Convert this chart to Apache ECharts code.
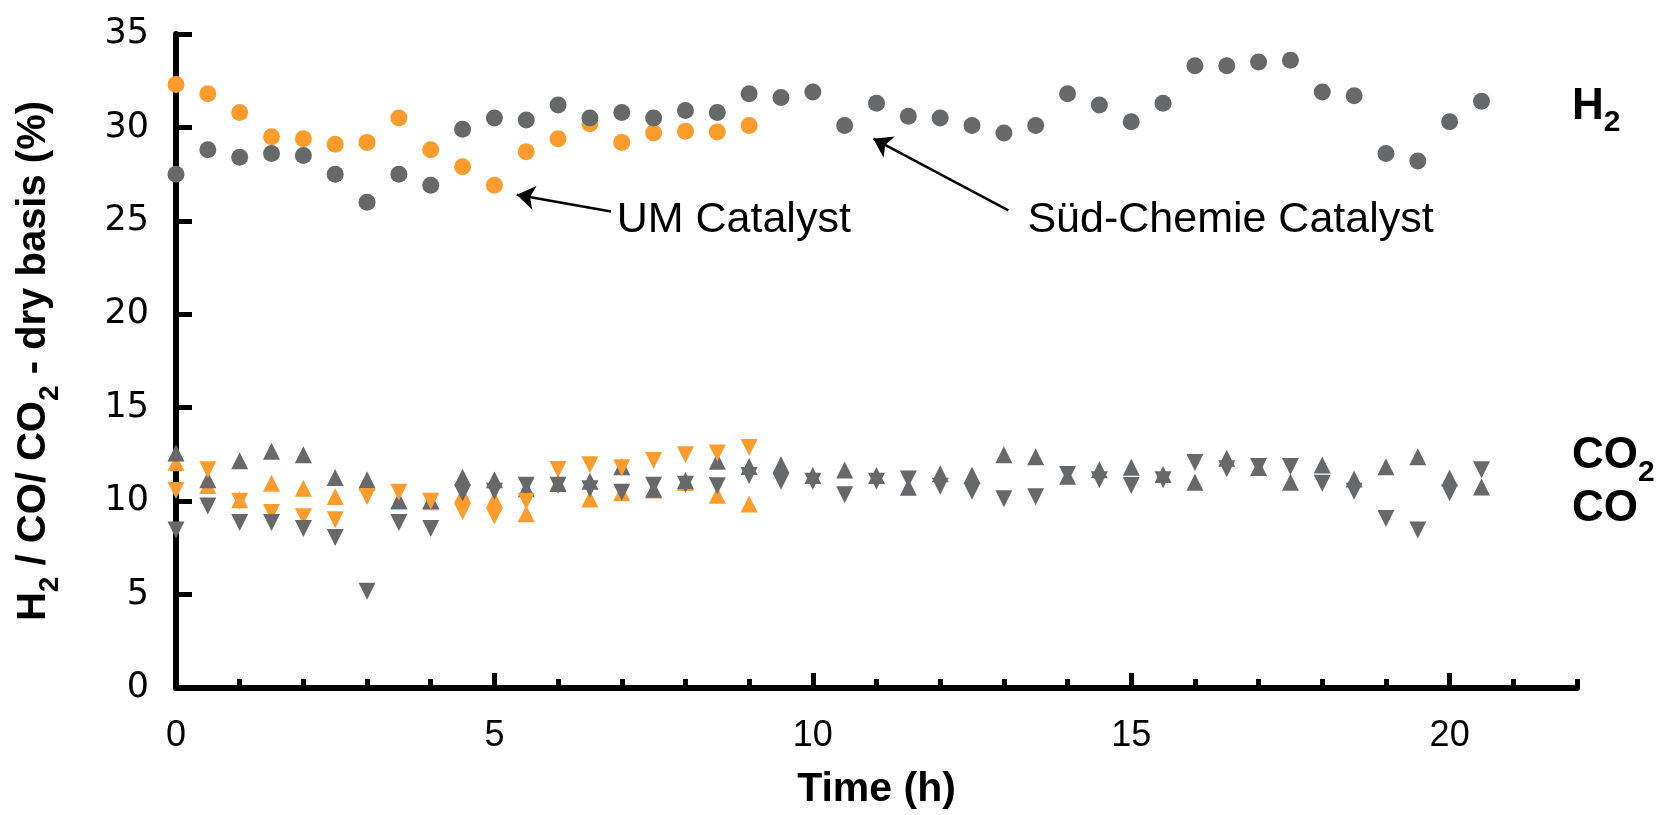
<!DOCTYPE html>
<html>
<head>
<meta charset="utf-8">
<script src="https://cdn.jsdelivr.net/npm/echarts@6/dist/echarts.min.js"></script>
<style>
html,body{margin:0;padding:0;background:#fff;}
#c{width:1673px;height:815px;}
</style>
</head>
<body>
<div id="c"></div>
<script>
// ---- data ----
const timeSC = [0,0.5,1,1.5,2,2.5,3,3.5,4,4.5,5,5.5,6,6.5,7,7.5,8,8.5,9,9.5,10,10.5,11,11.5,12,12.5,13,13.5,14,14.5,15,15.5,16,16.5,17,17.5,18,18.5,19,19.5,20,20.5];
const timeUM = [0,0.5,1,1.5,2,2.5,3,3.5,4,4.5,5,5.5,6,6.5,7,7.5,8,8.5,9];

const h2SC = [27.5,28.8,28.4,28.6,28.5,27.5,26.0,27.5,26.9,29.9,30.5,30.4,31.2,30.5,30.8,30.5,30.9,30.8,31.8,31.6,31.9,30.1,31.3,30.6,30.5,30.1,29.7,30.1,31.8,31.2,30.3,31.3,33.3,33.3,33.5,33.6,31.9,31.7,28.6,28.2,30.3,31.4];
const h2UM = [32.3,31.8,30.8,29.5,29.4,29.1,29.2,30.5,28.8,27.9,26.9,28.7,29.4,30.2,29.2,29.7,29.8,29.75,30.1];

const co2SC = [12.57,11.15,12.16,12.67,12.48,11.26,11.14,10.04,10.04,11.28,11.15,10.66,10.95,11.07,11.84,10.64,11.1,12.13,11.86,11.95,11.37,11.67,11.37,10.75,11.47,11.38,12.48,12.37,11.33,11.68,11.81,11.42,11.01,12.30,11.8,11.01,11.93,11.19,11.84,12.37,11.24,10.76];
const coSC = [8.45,9.74,8.86,8.86,8.54,8.06,5.18,8.86,8.54,10.43,10.53,10.85,10.85,10.66,10.47,10.85,10.9,10.82,11.37,11.07,11.07,10.34,11.07,11.19,10.80,10.53,10.13,10.23,11.42,11.15,10.84,11.15,12.07,11.74,11.86,11.86,10.96,10.53,9.07,8.45,10.45,11.68];

const co2UM = [12.07,10.84,10.08,10.96,10.69,10.25,11.0,10.0,9.97,10.34,10.09,9.33,11.0,10.11,10.45,10.6,11.0,10.32,9.85];
const coUM = [10.57,11.68,10.0,9.39,9.17,9.0,10.25,10.48,9.99,9.44,9.21,9.99,11.70,11.95,11.79,12.18,12.48,12.57,12.87];

const xMajorTicks = [0,5,10,15,20];
const xMinorTicks = [1,2,3,4,6,7,8,9,11,12,13,14,16,17,18,19,21,22];

// annotations (data coordinates)
const arrowUM = [[6.83,25.5],[5.35,26.4]];
const arrowSC = [[13.07,25.56],[10.95,29.4]];
const labelUM = {text:'UM Catalyst', at:[6.92,25.02]};
const labelSC = {text:'Süd-Chemie Catalyst', at:[13.37,25.02]};

const GREY = '#67686A';
const ORANGE = '#FB9C2C';

function pairs(xs, ys){ return xs.map((x,i)=>[x, ys[i]]); }

const chart = echarts.init(document.getElementById('c'), null, {renderer:'canvas'});

const sub = {fontSize: 28, fontWeight:'bold', fontFamily:'Liberation Sans, Arial', lineHeight: 26, verticalAlign:'bottom', color:'#000'};
const main = {fontSize: 40, fontWeight:'bold', fontFamily:'Liberation Sans, Arial', lineHeight: 60, color:'#000'};

function scatter(name, xs, ys, color, symbol, rotate){
  return {
    type:'scatter', name, data: pairs(xs, ys),
    symbol, symbolSize: 17, symbolRotate: rotate || 0,
    itemStyle:{color, opacity:1},
    emphasis:{disabled:true},
    xAxisIndex:0, yAxisIndex:0
  };
}

chart.setOption({
  animation:false,
  backgroundColor:'#fff',
  grid:{left:176, right:96, top:34, bottom:124, containLabel:false},
  xAxis:[{
    type:'value', min:0, max:22, interval:5,
    name:'Time (h)', nameLocation:'middle', nameGap:81,
    nameTextStyle:{fontSize:41, fontWeight:'bold', fontFamily:'Liberation Sans, Arial', color:'#000'},
    axisLine:{show:true, lineStyle:{color:'#000', width:6}},
    axisTick:{show:true, inside:true, length:15, lineStyle:{color:'#000', width:5}, customValues: xMajorTicks},
    axisLabel:{show:true, margin:30, fontSize:36, fontFamily:'Liberation Sans Narrow, Liberation Sans, Arial', color:'#000', customValues: xMajorTicks},
    splitLine:{show:false}
  },{
    type:'value', min:0, max:22, interval:1, position:'bottom',
    axisLine:{show:false},
    axisTick:{show:true, inside:true, length:9, lineStyle:{color:'#000', width:5}, customValues: xMinorTicks},
    axisLabel:{show:false},
    splitLine:{show:false}
  }],
  yAxis:{
    type:'value', min:0, max:35, interval:5,
    name:'{m|H}{s|2}{m| / CO/ CO}{s|2}{m| - dry basis (%)}',
    nameLocation:'middle', nameRotate:90, nameGap:112,
    nameTextStyle:{rich:{m:main, s:sub}},
    axisLine:{show:true, lineStyle:{color:'#000', width:6}},
    axisTick:{show:true, inside:true, length:16, lineStyle:{color:'#000', width:5}},
    axisLabel:{show:true, margin:27, fontSize:35, fontFamily:'DejaVu Sans', color:'#000'},
    splitLine:{show:false}
  },
  series:[
    scatter('H2 UM', timeUM, h2UM, ORANGE, 'circle'),
    scatter('H2 Süd-Chemie', timeSC, h2SC, GREY, 'circle'),
    scatter('CO2 UM', timeUM, co2UM, ORANGE, 'triangle'),
    scatter('CO2 Süd-Chemie', timeSC, co2SC, GREY, 'triangle'),
    scatter('CO UM', timeUM, coUM, ORANGE, 'triangle', 180),
    scatter('CO Süd-Chemie', timeSC, coSC, GREY, 'triangle', 180),
    {
      type:'lines', coordinateSystem:'cartesian2d', xAxisIndex:0, yAxisIndex:0,
      symbol:['none','arrow'], symbolSize:[0,18],
      lineStyle:{color:'#000', width:2.5, opacity:1, curveness:0},
      data:[{coords: arrowUM},{coords: arrowSC}],
      silent:true, z:5
    }
  ]
});

function px(p){ return chart.convertToPixel({xAxisIndex:0, yAxisIndex:0}, p); }

const rightX = 21.92;
const rightLabels = [
  {rich:'{m|H}{s|2}', y:30.35},
  {rich:'{m|CO}{s|2}', y:11.65},
  {rich:'{m|CO}', y:8.85}
];
const rmain = {fontSize:44, fontWeight:'bold', fontFamily:'Liberation Sans, Arial', lineHeight:62, color:'#000'};
const rsub = {fontSize:30, fontWeight:'bold', fontFamily:'Liberation Sans, Arial', lineHeight:28, verticalAlign:'bottom', color:'#000'};

const graphics = [];
[labelUM, labelSC].forEach(l=>{
  const p = px(l.at);
  graphics.push({type:'text', x:p[0], y:p[1], style:{text:l.text, font:'43px "Liberation Sans", Arial', fill:'#000', textAlign:'left', textVerticalAlign:'middle'}});
});
rightLabels.forEach(l=>{
  const p = px([rightX, l.y]);
  graphics.push({type:'text', x:p[0], y:p[1]-14, style:{text:l.rich, rich:{m:rmain, s:rsub}, textAlign:'left', textVerticalAlign:'middle'}});
});
chart.setOption({graphic: graphics});
</script>
</body>
</html>
